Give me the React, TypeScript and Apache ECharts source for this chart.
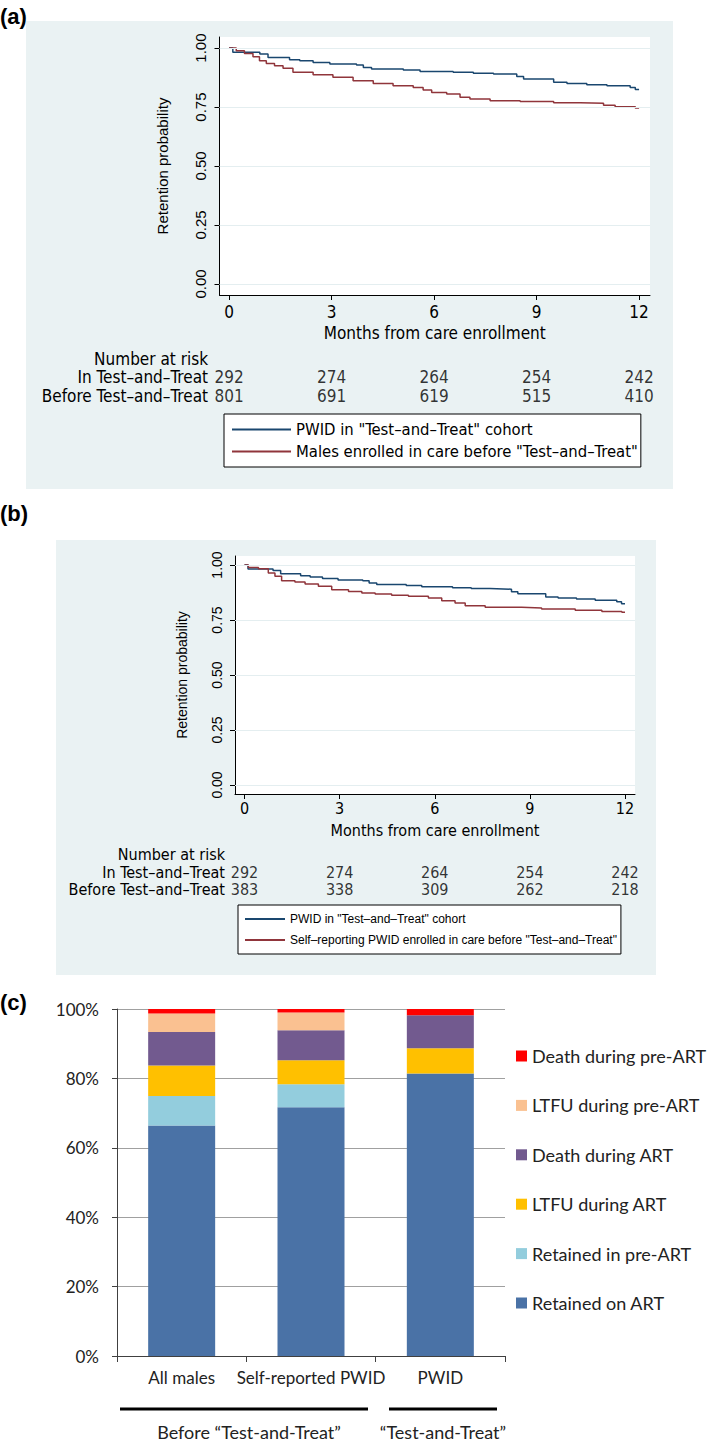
import React, { useEffect, useRef } from "react";
import * as echarts from "echarts";

// ---------- data ----------
const monthTicks = [0, 3, 6, 9, 12];
const survTicks = [0, 0.25, 0.5, 0.75, 1];

// PWID in "Test-and-Treat" cohort (same cohort in panels a and b)
const pwidMonths = [0, 0.11, 0.9, 1.14, 1.77, 2.07, 2.46, 2.95, 3.73, 3.93, 4.17, 5.1, 5.59, 6.56, 7.15, 7.74, 8.42, 8.62, 9.5, 9.89, 10.47, 11.06, 11.74, 11.89, 12];
const pwidSurv = [1.0, 0.982, 0.975, 0.96, 0.951, 0.946, 0.939, 0.932, 0.928, 0.918, 0.911, 0.907, 0.901, 0.897, 0.893, 0.89, 0.879, 0.869, 0.855, 0.85, 0.845, 0.84, 0.833, 0.824, 0.824];

// Males enrolled in care before "Test-and-Treat" (panel a)
const malesMonths = [0, 0.21, 0.45, 0.7, 0.89, 1.09, 1.33, 1.58, 1.87, 2.46, 3.04, 3.63, 4.22, 4.8, 5.39, 5.68, 5.93, 6.37, 6.76, 7.05, 7.64, 8.52, 9.5, 10.28, 10.96, 11.3, 11.89, 12];
const malesSurv = [1.0, 0.989, 0.977, 0.963, 0.946, 0.935, 0.925, 0.915, 0.897, 0.887, 0.876, 0.862, 0.85, 0.84, 0.833, 0.822, 0.812, 0.805, 0.791, 0.784, 0.777, 0.773, 0.768, 0.766, 0.758, 0.751, 0.746, 0.746];

// Self-reporting PWID enrolled before "Test-and-Treat" (panel b)
const selfMonths = [0, 0.12, 0.44, 0.75, 0.96, 1.17, 1.59, 1.91, 2.33, 2.75, 3.28, 3.7, 4.12, 4.64, 5.17, 5.8, 6.22, 6.64, 6.96, 7.59, 8.74, 9.37, 10.43, 11.27, 11.9, 12];
const selfSurv = [1.0, 0.989, 0.983, 0.964, 0.949, 0.929, 0.923, 0.914, 0.903, 0.888, 0.88, 0.873, 0.868, 0.862, 0.858, 0.85, 0.838, 0.827, 0.815, 0.808, 0.805, 0.8, 0.794, 0.789, 0.785, 0.785];

const riskRows = ["In Test–and–Treat", "Before Test–and–Treat"];
const riskPwid = [292, 274, 264, 254, 242];
const riskMales = [801, 691, 619, 515, 410];
const riskSelf = [383, 338, 309, 262, 218];

const groups = ["All males", "Self-reported PWID", "PWID"];
const outcomeNames = ["Retained on ART", "Retained in pre-ART", "LTFU during ART", "Death during ART", "LTFU during pre-ART", "Death during pre-ART"];
const retainedART = [66.4, 71.7, 81.4];
const retainedPre = [8.5, 6.6, 0];
const ltfuART = [8.8, 6.9, 7.3];
const deathART = [9.7, 8.7, 9.5];
const ltfuPre = [5.3, 5.1, 0];
const deathPre = [1.3, 1.0, 1.8];

const PWID_NAME = 'PWID in "Test–and–Treat" cohort';
const MALES_NAME = 'Males enrolled in care before "Test–and–Treat"';
const SELF_NAME = 'Self–reporting PWID enrolled in care before "Test–and–Treat"';

// ---------- styles ----------
const NARROW = "'Liberation Sans Narrow', 'Arial Narrow', 'DejaVu Sans Condensed', sans-serif";
const REG = "'Liberation Sans', Arial, sans-serif";
const CAL = "Lato, 'Open Sans', sans-serif";
const BLUE = "#1a476f";
const RED = "#90353b";
const PANEL_BG = "#eaf2f3";
const outcomeColors = ["#4a72a6", "#93cddd", "#ffc000", "#725a8f", "#fac191", "#ff0000"];
const outcomeData = [retainedART, retainedPre, ltfuART, deathART, ltfuPre, deathPre];

const zip = (xs: number[], ys: number[]) => xs.map((x, i) => [x, ys[i]]);

function kmAxes(idx: number, xmin: number, xmax: number, ymin: number, ymax: number, f: { tick: number; ylab: number; margX: number; margY: number; nameGapX: number; nameGapY: number; riskMargin: number; riskFont: number }) {
  const xAxes = [
    {
      gridIndex: idx, type: "value", min: xmin, max: xmax,
      axisLine: { show: true, onZero: false, lineStyle: { color: "#000", width: 1 } },
      axisTick: { show: true, length: 5, customValues: monthTicks, lineStyle: { color: "#000" } },
      axisLabel: { customValues: monthTicks, fontSize: f.tick, fontFamily: NARROW, color: "#000", margin: f.margX },
      splitLine: { show: false },
      name: "Months from care enrollment", nameLocation: "middle", nameGap: f.nameGapX,
      nameTextStyle: { fontSize: f.tick, fontFamily: NARROW, color: "#000" },
    },
    { gridIndex: idx + 1, type: "value", min: xmin, max: xmax, show: false },
  ];
  const yAxes = [
    {
      gridIndex: idx, type: "value", min: ymin, max: ymax,
      axisLine: { show: true, onZero: false, lineStyle: { color: "#000", width: 1 } },
      axisTick: { show: true, length: 5, customValues: survTicks, lineStyle: { color: "#000" } },
      axisLabel: { customValues: survTicks, rotate: 90, fontSize: f.ylab, fontFamily: REG, color: "#000", margin: f.margY, formatter: (v: number) => v.toFixed(2) },
      splitLine: { show: false },
      name: "Retention probability", nameLocation: "middle", nameRotate: 90, nameGap: f.nameGapY,
      nameTextStyle: { fontSize: f.ylab, fontFamily: REG, color: "#000" },
    },
    {
      gridIndex: idx + 1, type: "category", data: riskRows, inverse: true,
      axisLine: { show: false }, axisTick: { show: false }, splitLine: { show: false },
      axisLabel: { interval: 0, fontSize: f.riskFont, fontFamily: NARROW, color: "#000", margin: f.riskMargin },
    },
  ];
  return { xAxes, yAxes };
}

function kmSeries(idx: number, redName: string, redM: number[], redS: number[], risk2: number[], riskFont: number) {
  return [
    {
      type: "line", xAxisIndex: idx, yAxisIndex: idx, data: [], z: 1, silent: true,
      markLine: {
        silent: true, symbol: ["none", "none"], label: { show: false },
        lineStyle: { color: "#e4eef0", type: "solid", width: 1 },
        data: survTicks.map((v) => ({ yAxis: v })),
      },
    },
    {
      name: PWID_NAME, type: "line", step: "end", xAxisIndex: idx, yAxisIndex: idx, symbol: "none", z: 3,
      lineStyle: { color: BLUE, width: 1.5 }, itemStyle: { color: BLUE }, data: zip(pwidMonths, pwidSurv),
    },
    {
      name: redName, type: "line", step: "end", xAxisIndex: idx, yAxisIndex: idx, symbol: "none", z: 3,
      lineStyle: { color: RED, width: 1.5 }, itemStyle: { color: RED }, data: zip(redM, redS),
    },
    {
      type: "scatter", xAxisIndex: idx + 1, yAxisIndex: idx + 1, symbolSize: 1, silent: true,
      itemStyle: { color: "rgba(0,0,0,0)" },
      label: { show: true, position: "inside", fontSize: riskFont, fontFamily: NARROW, color: "#000", formatter: (p: any) => String(p.value[2]) },
      data: [
        ...monthTicks.map((m, i) => [m, riskRows[0], riskPwid[i]]),
        ...monthTicks.map((m, i) => [m, riskRows[1], risk2[i]]),
      ],
    },
  ];
}

export default function App() {
  const ref = useRef<HTMLDivElement>(null);
  useEffect(() => {
    if (!ref.current) return;
    const chart = echarts.init(ref.current, undefined, { renderer: "svg" });

    const a = kmAxes(0, -0.28, 12.32, -0.047, 1.047, { tick: 17, ylab: 15, margX: 8, margY: 12, nameGapX: 29, nameGapY: 50, riskMargin: 11.5, riskFont: 17 });
    const b = kmAxes(2, -0.3, 12.315, -0.041, 1.041, { tick: 16, ylab: 14, margX: 6, margY: 11, nameGapX: 28, nameGapY: 46, riskMargin: 10, riskFont: 16 });

    const barSeries = outcomeNames.map((n, i) => ({
      name: n, type: "bar", stack: "total", xAxisIndex: 4, yAxisIndex: 4, barWidth: 67,
      itemStyle: { color: outcomeColors[i] }, data: outcomeData[i],
    }));

    const option: any = {
      animation: false,
      grid: [
        { left: 219.5, top: 37, width: 430.5, height: 258 },
        { left: 219.5, top: 367.5, width: 430.5, height: 38 },
        { left: 235, top: 556, width: 400, height: 238 },
        { left: 235, top: 863.5, width: 400, height: 34 },
        { left: 117, top: 1009, width: 388, height: 347 },
      ],
      xAxis: [
        ...a.xAxes, ...b.xAxes,
        {
          gridIndex: 4, type: "category", data: groups,
          axisLine: { show: true, lineStyle: { color: "#404040", width: 1 } },
          axisTick: { show: true, length: 6, lineStyle: { color: "#404040" } },
          axisLabel: { interval: 0, fontSize: 17, fontFamily: CAL, color: "#222", margin: 13 },
        },
      ],
      yAxis: [
        ...a.yAxes, ...b.yAxes,
        {
          gridIndex: 4, type: "value", min: 0, max: 100, interval: 20,
          axisLine: { show: true, lineStyle: { color: "#404040", width: 1 } },
          axisTick: { show: true, length: 5, lineStyle: { color: "#404040" } },
          axisLabel: { fontSize: 17, fontFamily: CAL, color: "#222", margin: 18, formatter: "{value}%" },
          splitLine: { show: true, lineStyle: { color: "#a0a0a0", width: 1 } },
        },
      ],
      legend: [
        {
          orient: "vertical", left: 224, top: 414, data: [PWID_NAME, MALES_NAME], selectedMode: false,
          icon: "rect", itemWidth: 59, itemHeight: 2, itemGap: 5, padding: [7, 3, 7, 8],
          borderColor: "#000", borderWidth: 1, backgroundColor: "#fff",
          textStyle: { fontSize: 16.5, fontFamily: NARROW, color: "#000", lineHeight: 17 },
        },
        {
          orient: "vertical", left: 238, top: 905, data: [PWID_NAME, SELF_NAME], selectedMode: false,
          icon: "rect", itemWidth: 40, itemHeight: 2, itemGap: 7, padding: [7, 4, 7, 7],
          borderColor: "#000", borderWidth: 1, backgroundColor: "#fff",
          textStyle: { fontSize: 12, fontFamily: REG, color: "#000", lineHeight: 14 },
        },
        {
          orient: "vertical", left: 516, top: 1046, data: [...outcomeNames].reverse(), selectedMode: false,
          icon: "rect", itemWidth: 11, itemHeight: 11, itemGap: 29.4, padding: 0,
          textStyle: { fontSize: 18, fontFamily: CAL, color: "#222", lineHeight: 20 },
        },
      ],
      graphic: [
        { type: "rect", z: -10, shape: { x: 26, y: 21, width: 647, height: 468 }, style: { fill: PANEL_BG } },
        { type: "rect", z: -5, shape: { x: 219.5, y: 37, width: 430.5, height: 258 }, style: { fill: "#fff" } },
        { type: "rect", z: -10, shape: { x: 56, y: 540, width: 600, height: 435 }, style: { fill: PANEL_BG } },
        { type: "rect", z: -5, shape: { x: 235, y: 556, width: 400, height: 238 }, style: { fill: "#fff" } },
        { type: "text", x: 0, y: 16, style: { text: "(a)", fontSize: 22, fontWeight: "bold", fontFamily: REG, fill: "#000", verticalAlign: "middle" } },
        { type: "text", x: 0, y: 513, style: { text: "(b)", fontSize: 22, fontWeight: "bold", fontFamily: REG, fill: "#000", verticalAlign: "middle" } },
        { type: "text", x: 0, y: 1002, style: { text: "(c)", fontSize: 22, fontWeight: "bold", fontFamily: REG, fill: "#000", verticalAlign: "middle" } },
        { type: "text", x: 208, y: 359, style: { text: "Number at risk", fontSize: 17, fontFamily: NARROW, fill: "#000", align: "right", verticalAlign: "middle" } },
        { type: "text", x: 225, y: 854, style: { text: "Number at risk", fontSize: 16, fontFamily: NARROW, fill: "#000", align: "right", verticalAlign: "middle" } },
        { type: "line", shape: { x1: 120, y1: 1409, x2: 368, y2: 1409 }, style: { stroke: "#000", lineWidth: 3 } },
        { type: "line", shape: { x1: 389, y1: 1409, x2: 497, y2: 1409 }, style: { stroke: "#000", lineWidth: 3 } },
        { type: "text", x: 249, y: 1432, style: { text: "Before “Test-and-Treat”", fontSize: 18, fontFamily: CAL, fill: "#222", align: "center", verticalAlign: "middle" } },
        { type: "text", x: 443, y: 1432, style: { text: "“Test-and-Treat”", fontSize: 18, fontFamily: CAL, fill: "#222", align: "center", verticalAlign: "middle" } },
      ],
      series: [
        ...kmSeries(0, MALES_NAME, malesMonths, malesSurv, riskMales, 17),
        ...kmSeries(2, SELF_NAME, selfMonths, selfSurv, riskSelf, 16),
        ...barSeries,
      ],
    };
    chart.setOption(option);
    return () => chart.dispose();
  }, []);
  return <div ref={ref} style={{ position: "absolute", left: 0, top: 0, width: 709, height: 1442 }} />;
}
